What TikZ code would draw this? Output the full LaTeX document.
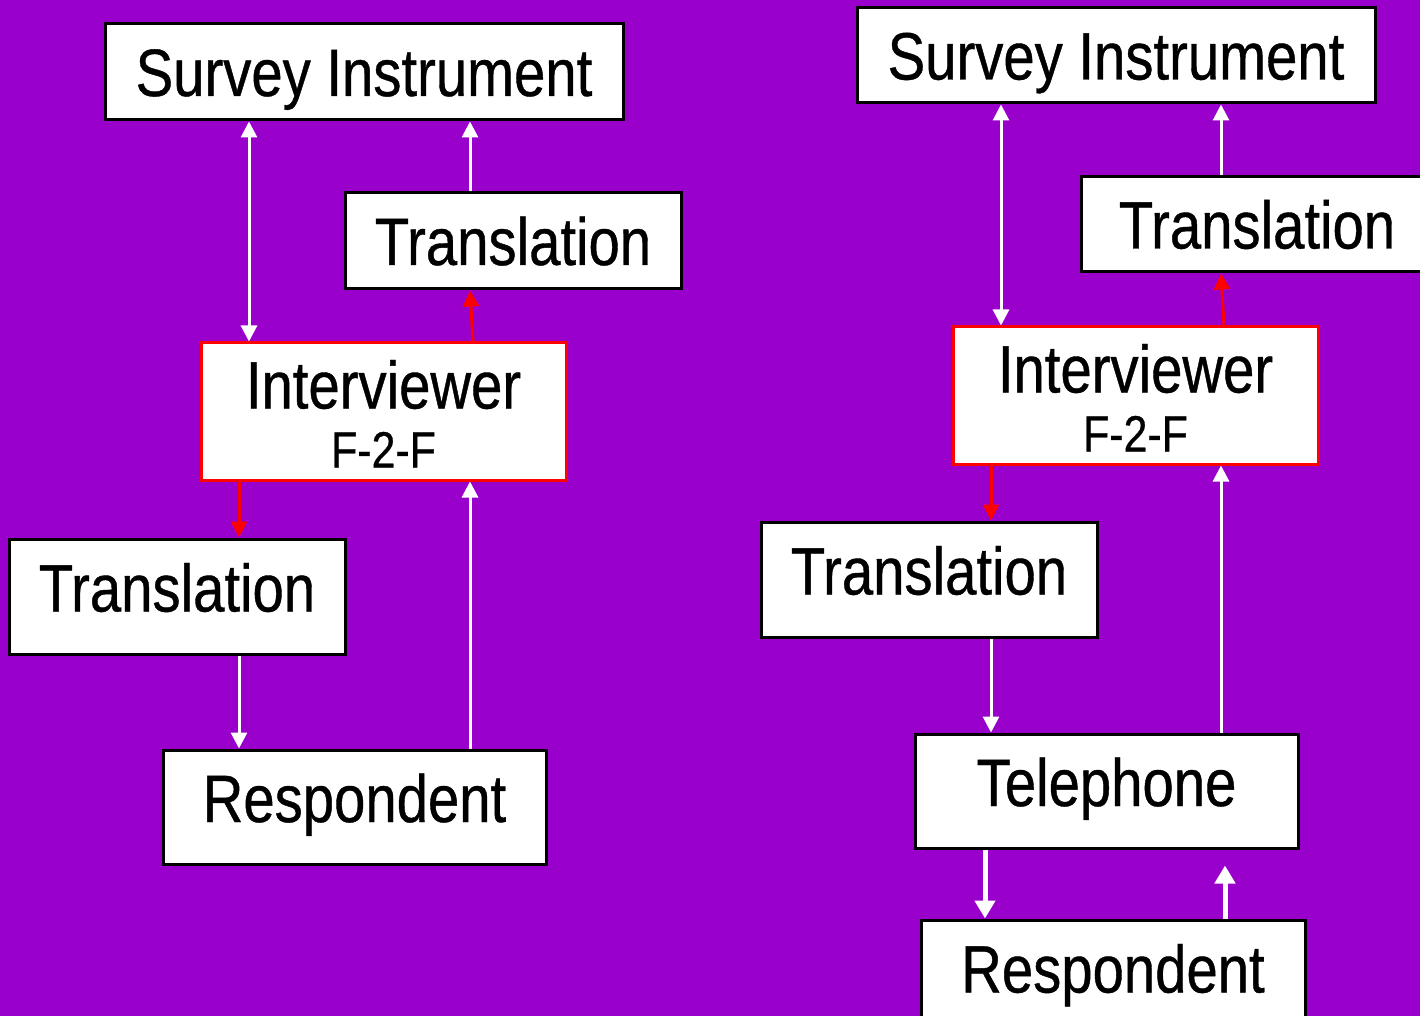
\documentclass[tikz,border=0pt]{standalone}
\usepackage{fontspec}
\setmainfont{Liberation Sans}[FakeStretch=0.84, FakeBold=0.6]
\usetikzlibrary{arrows.meta}
\definecolor{bgpurple}{RGB}{153,0,204}
\definecolor{linkred}{RGB}{255,0,0}
\tikzset{
  box/.style 2 args={draw=black, fill=white, line width=1.5pt, inner sep=0pt,
    minimum width=#1*0.5pt, minimum height=#2*0.5pt,
    font=\fontsize{33.5}{29.5}\selectfont, text height=24pt, text depth=0pt},
  tallbox/.style={text depth=9pt},
  redbox/.style={draw=linkred, align=center, text height=56pt, text depth=0pt},
  warrow/.style={draw=white, line width=1.5pt, -{Triangle[length=8pt,width=8pt]}},
  wboth/.style={draw=white, line width=1.5pt, {Triangle[length=8pt,width=8pt]}-{Triangle[length=8pt,width=8pt]}},
  wthick/.style={draw=white, line width=2.5pt, -{Triangle[length=9pt,width=10pt]}},
  rarrow/.style={draw=linkred, line width=1.5pt, -{Triangle[length=8pt,width=8pt]}},
}
\newcommand{\ftf}{{\fontsize{25.5}{29.5}\selectfont F-2-F}}
\begin{document}
\begin{tikzpicture}[x=0.5pt, y=-0.5pt]
  \fill[bgpurple] (0,0) rectangle (1420,1016);
  \useasboundingbox (0,0) rectangle (1420,1016);

  % ---- face-to-face chain ----
  \node[box={518}{96}] (survL) at (364,72) {Survey Instrument};
  \node[box={336}{96}] (trUpL) at (513,241) {Translation};
  \node[box={365}{137}, redbox] (intL) at (383.5,411.5) {Interviewer\\\ftf};
  \node[box={336}{115}, tallbox] (trDnL) at (177,596.5) {Translation};
  \node[box={383}{114}, tallbox] (respL) at (354.5,807) {Respondent};

  \draw[wboth] (survL.south -| 249,0) -- (intL.north -| 249,0);
  \draw[warrow] (trUpL.north -| 470,0) -- (survL.south -| 470,0);
  \draw[rarrow] (intL.north -| 473,0) -- (trUpL.south -| 470,0);
  \draw[rarrow] (intL.south -| 239,0) -- (trDnL.north -| 239,0);
  \draw[warrow] (trDnL.south -| 239,0) -- (respL.north -| 239,0);
  \draw[warrow] (respL.north -| 470,0) -- (intL.south -| 470,0);

  % ---- telephone chain ----
  \node[box={518}{95}] (survR) at (1116,55.5) {Survey Instrument};
  \node[box={352}{95}] (trUpR) at (1257,224.5) {Translation};
  \node[box={365}{137}, redbox] (intR) at (1135.5,395.5) {Interviewer\\\ftf};
  \node[box={336}{115}, tallbox] (trDnR) at (929,579.5) {Translation};
  \node[box={383}{114}, tallbox] (tel) at (1106.5,791) {Telephone};
  \node[box={384}{115}, tallbox] (respR) at (1113,977.5) {Respondent};

  \draw[wboth] (survR.south -| 1001,0) -- (intR.north -| 1001,0);
  \draw[warrow] (trUpR.north -| 1221,0) -- (survR.south -| 1221,0);
  \draw[rarrow] (intR.north -| 1224,0) -- (trUpR.south -| 1221,0);
  \draw[rarrow] (intR.south -| 991,0) -- (trDnR.north -| 991,0);
  \draw[warrow] (trDnR.south -| 991,0) -- (tel.north -| 991,0);
  \draw[warrow] (tel.north -| 1221,0) -- (intR.south -| 1221,0);
  \draw[wthick] (tel.south -| 985,0) -- (respR.north -| 985,0);
  \draw[wthick, shorten >=8pt] (respR.north -| 1225,0) -- (tel.south -| 1225,0);
\end{tikzpicture}
\end{document}
